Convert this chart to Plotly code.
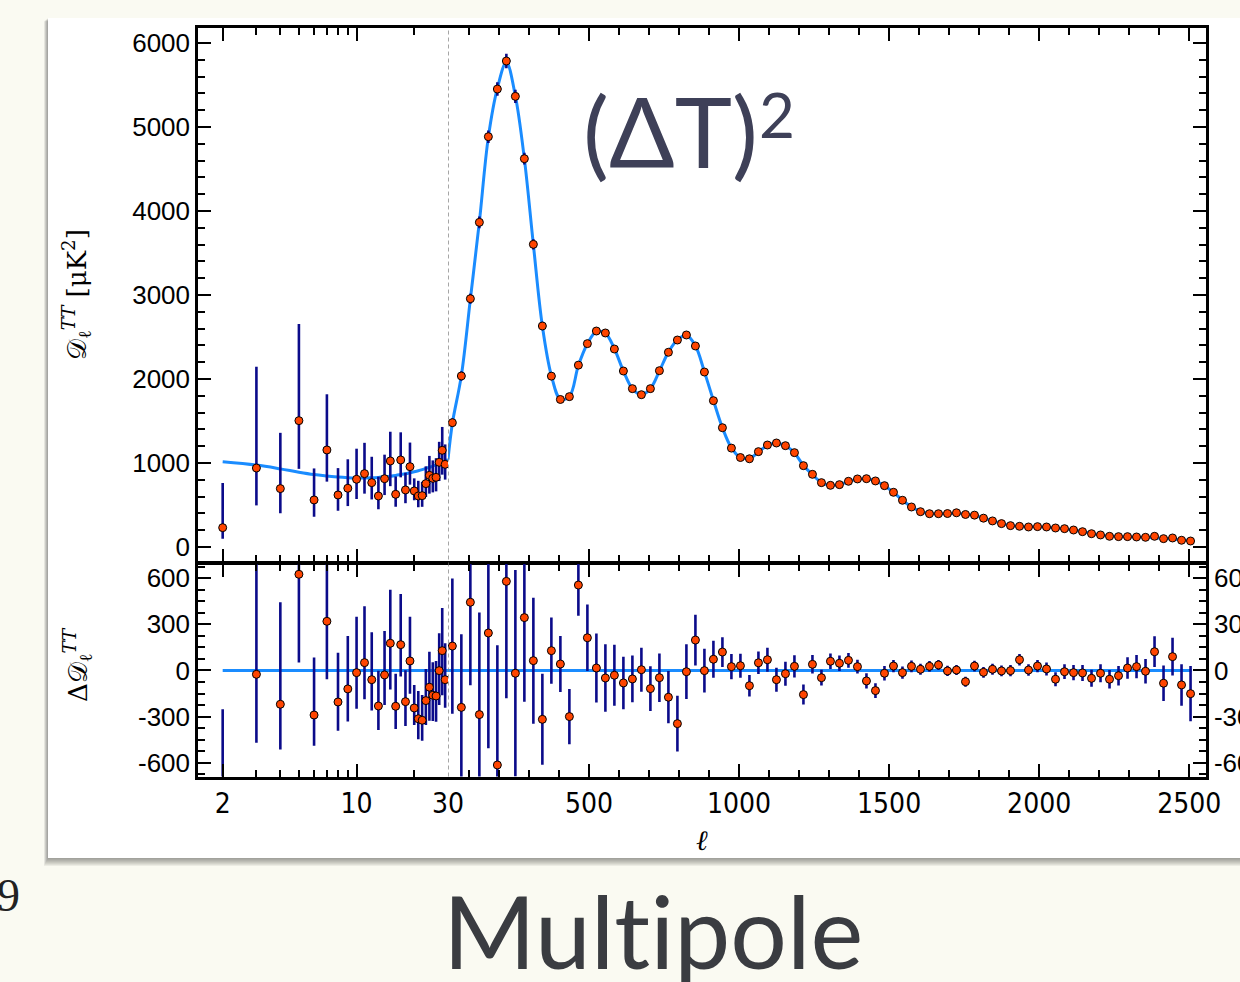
import plotly.graph_objects as go

W, H = 1240, 982

# ---------------- data ----------------
# unbinned low multipoles, ell = 2..29
ell_lo = [2, 3, 4, 5, 6, 7, 8, 9, 10, 11, 12, 13, 14, 15, 16, 17, 18, 19, 20,
          21, 22, 23, 24, 25, 26, 27, 28, 29]
D_lo = [230, 940, 695, 1504, 560, 1155, 619, 699, 806, 873, 766, 607, 813, 1024,
        627, 1036, 679, 956, 667, 607, 611, 754, 853, 817, 829, 1008, 1151, 984]
err_up_lo = [532, 1206, 664, 1151, 375, 663, 320, 345, 364, 367, 308, 230, 286, 348,
             212, 329, 205, 287, 150, 181, 165, 206, 231, 214, 228, 244, 278, 237]
err_dn_lo = [131, 445, 294, 574, 200, 377, 188, 212, 235, 238, 200, 157, 195, 300,
             148, 207, 158, 214, 111, 134, 133, 159, 218, 167, 167, 223, 290, 182]
res_lo = [-785, -25, -220, 626, -290, 320, -205, -120, -14, 51, -60, -231, -29, 177,
          -233, 168, -203, 62, -244, -314, -324, -196, -109, -161, -166, -1, 129, -60]

# theory curve, low multipoles
th_ell_lo = [2, 3, 4, 5, 6, 7, 8, 9, 10, 11, 12, 13, 14, 15, 16, 17, 18, 19, 20,
             21, 22, 23, 24, 25, 26, 27, 28, 29, 30]
th_D_lo = [1015, 975, 930, 890, 862, 845, 832, 825, 822, 821, 823, 828, 835, 843,
           852, 862, 872, 884, 896, 908, 921, 935, 949, 963, 978, 993, 1008, 1024, 1040]

# binned multipoles (delta ell = 30)
ell_hi = [44.5, 74.5, 104.5, 134.5, 164.5, 194.5, 224.5, 254.5, 284.5, 314.5,
          344.5, 374.5, 404.5, 434.5, 464.5, 494.5, 524.5, 554.5, 584.5, 614.5,
          644.5, 674.5, 704.5, 734.5, 764.5, 794.5, 824.5, 854.5, 884.5, 914.5,
          944.5, 974.5, 1004.5, 1034.5, 1064.5, 1094.5, 1124.5, 1154.5, 1184.5, 1214.5,
          1244.5, 1274.5, 1304.5, 1334.5, 1364.5, 1394.5, 1424.5, 1454.5, 1484.5, 1514.5,
          1544.5, 1574.5, 1604.5, 1634.5, 1664.5, 1694.5, 1724.5, 1754.5, 1784.5, 1814.5,
          1844.5, 1874.5, 1904.5, 1934.5, 1964.5, 1994.5, 2024.5, 2054.5, 2084.5, 2114.5,
          2144.5, 2174.5, 2204.5, 2234.5, 2264.5, 2294.5, 2324.5, 2354.5, 2384.5, 2414.5,
          2444.5, 2474.5, 2504.5]
D_hi = [1480, 2036, 2956, 3865, 4885, 5452, 5786, 5365, 4623, 3603,
        2631, 2034, 1756, 1790, 2165, 2421, 2571, 2548, 2357, 2095,
        1885, 1813, 1885, 2099, 2318, 2464, 2524, 2393, 2083, 1742,
        1420, 1177, 1065, 1050, 1135, 1214, 1238, 1206, 1123, 968,
        865, 766, 734, 742, 782, 810, 813, 786, 730, 651,
        556, 476, 420, 396, 396, 398, 407, 387, 379, 343,
        310, 278, 254, 246, 238, 242, 238, 226, 218, 202,
        182, 158, 143, 127, 123, 123, 119, 115, 127, 99,
        107, 80, 71]
err_top_hi = [50, 55, 60, 70, 75, 80, 85, 80, 70, 60,
              50, 45, 40, 40, 40, 40, 40, 40, 38, 36,
              35, 35, 35, 35, 35, 35, 35, 34, 33, 32,
              30, 28, 27, 26, 26, 26, 26, 25, 25, 24,
              23, 22, 22, 21, 21, 20, 20, 20, 19, 18,
              18, 17, 16, 15, 15, 15, 15, 15, 15, 15,
              15, 15, 15, 15, 15, 15, 15, 15, 15, 15,
              15, 15, 15, 15, 16, 16, 17, 18, 20, 22,
              24, 26, 30]
res_hi = [159, -240, 444, -287, 244, -615, 580, -18, 344, 64,
          -318, 129, 42, -300, 556, 213, 16, -49, -31, -81,
          -55, 5, -118, -47, -174, -346, -8, 198, -1, 73,
          120, 25, 31, -99, 50, 70, -60, -21, 27, -157,
          40, -47, 60, 47, 66, 25, -68, -131, -18, 29,
          -14, 27, 8, 27, 36, -3, 3, -73, 29, -12,
          8, -3, -1, 70, 3, 29, 10, -57, -8, -14,
          -16, -51, -18, -57, -34, 16, 25, -5, 122, -83,
          90, -94, -151]
res_err_hi = [440, 475, 540, 665, 750, 780, 760, 672, 547, 410,
              296, 216, 182, 180, 200, 217, 225, 219, 198, 171,
              152, 143, 146, 158, 170, 181, 178, 165, 143, 120,
              97, 82, 78, 70, 73, 78, 78, 78, 72, 65,
              60, 51, 51, 50, 48, 45, 50, 48, 47, 40,
              40, 38, 35, 35, 33, 33, 33, 33, 35, 35,
              35, 35, 37, 37, 38, 40, 42, 45, 48, 50,
              52, 55, 58, 60, 63, 70, 75, 80, 100, 115,
              123, 135, 180]

# theory curve, binned range
th_ell_hi = [30] + ell_hi
th_D_hi = [1040, 1470, 2040, 2950, 3870, 4880, 5460, 5770, 5370, 4620, 3600,
           2630, 2040, 1760, 1790, 2160, 2420, 2565, 2545, 2360, 2095,
           1885, 1815, 1885, 2095, 2320, 2465, 2520, 2395, 2085, 1745,
           1420, 1180, 1065, 1055, 1130, 1210, 1235, 1205, 1120, 970,
           862, 768, 735, 742, 780, 808, 812, 788, 730, 650,
           556, 478, 422, 398, 395, 397, 402, 390, 376, 345,
           310, 280, 256, 245, 240, 240, 236, 227, 216, 200,
           182, 160, 143, 130, 123, 121, 118, 115, 110, 103,
           96, 85, 75]

zero_ell_lo = [2, 30]
zero_ell_hi = [30, 2508]
zero_val = [0, 0]

# axis ticks
xt_lo_vals = [2, 10, 30]
xt_lo_text = ["2", "10", "30"]
xt_lo_minor = [3, 4, 5, 6, 7, 8, 9, 20]
xt_hi_vals = [500, 1000, 1500, 2000, 2500]
xt_hi_text = ["500", "1000", "1500", "2000", "2500"]
yt_top_vals = [0, 1000, 2000, 3000, 4000, 5000, 6000]
yt_bot_vals = [-600, -300, 0, 300, 600]
yt_bot_text = ["-600", "-300", "0", "300", "600"]

# ---------------- styles ----------------
BLUE = "#1a8cff"
NAVY = "#0b0b8a"
RED = "#ff4500"
TICKFONT = dict(family="Liberation Sans, Arial, Helvetica, sans-serif", size=26, color="black")
XTICKFONT = dict(family="DejaVu Sans Condensed, Liberation Sans Narrow, Liberation Sans, sans-serif",
                 size=28, color="black")
SERIF = "DejaVu Serif, Liberation Serif, serif"
SLIDE = "Lato, Noto Sans, sans-serif"

def px_x(p):
    return p / W

def px_y(p):
    return 1 - p / H

L, MID, R = 198, 448, 1206
T_TOP, T_SPLIT_A, T_SPLIT_B, T_BOT = 28, 561.5, 564, 776.5

marker = dict(color=RED, size=8, line=dict(color="black", width=1))

fig = go.Figure()

# top panel, low ell (log axis)
fig.add_trace(go.Scatter(x=th_ell_lo, y=th_D_lo, xaxis="x", yaxis="y", mode="lines",
                         line=dict(color=BLUE, width=3, shape="spline"), hoverinfo="skip"))
fig.add_trace(go.Scatter(x=ell_lo, y=D_lo, xaxis="x", yaxis="y", mode="markers", marker=marker,
                         error_y=dict(type="data", symmetric=False, array=err_up_lo,
                                      arrayminus=err_dn_lo, color=NAVY, thickness=2.6, width=0)))
# top panel, high ell (linear axis)
fig.add_trace(go.Scatter(x=th_ell_hi, y=th_D_hi, xaxis="x2", yaxis="y2", mode="lines",
                         line=dict(color=BLUE, width=3, shape="spline"), hoverinfo="skip"))
fig.add_trace(go.Scatter(x=ell_hi, y=D_hi, xaxis="x2", yaxis="y2", mode="markers", marker=marker,
                         error_y=dict(type="data", array=err_top_hi, color=NAVY,
                                      thickness=2.6, width=0)))
# residual panel
fig.add_trace(go.Scatter(x=zero_ell_lo, y=zero_val, xaxis="x3", yaxis="y3", mode="lines",
                         line=dict(color=BLUE, width=3)))
fig.add_trace(go.Scatter(x=ell_lo, y=res_lo, xaxis="x3", yaxis="y3", mode="markers", marker=marker,
                         error_y=dict(type="data", symmetric=False, array=err_up_lo,
                                      arrayminus=err_dn_lo, color=NAVY, thickness=2.6, width=0)))
fig.add_trace(go.Scatter(x=zero_ell_hi, y=zero_val, xaxis="x4", yaxis="y4", mode="lines",
                         line=dict(color=BLUE, width=3)))
fig.add_trace(go.Scatter(x=ell_hi, y=res_hi, xaxis="x4", yaxis="y4", mode="markers", marker=marker,
                         error_y=dict(type="data", array=res_err_hi, color=NAVY,
                                      thickness=2.6, width=0)))

dom_lo = [px_x(L), px_x(MID)]
dom_hi = [px_x(MID), px_x(R)]
dom_top = [px_y(T_SPLIT_A), px_y(T_TOP)]
dom_bot = [px_y(T_BOT), px_y(T_SPLIT_B)]

xl_range = [0.1722, 1.4773]
xr_range = [30, 2556]
yt_range = [-173, 6179]
yb_range = [-690, 693]

common = dict(showgrid=False, zeroline=False, showline=True, linecolor="black", linewidth=2.5,
              ticks="inside", ticklen=13, tickwidth=2, tickcolor="black", automargin=False)

def xlo(show):
    return dict(common, type="log", range=xl_range, domain=dom_lo, tickmode="array",
                tickvals=xt_lo_vals, ticktext=xt_lo_text, showticklabels=show, mirror="ticks",
                tickfont=XTICKFONT,
                minor=dict(tickmode="array", tickvals=xt_lo_minor, ticks="inside", ticklen=7,
                           tickwidth=2, tickcolor="black", showgrid=False))

def xhi(show):
    return dict(common, range=xr_range, domain=dom_hi, tickmode="array",
                tickvals=xt_hi_vals, ticktext=xt_hi_text, showticklabels=show, mirror="ticks",
                tickfont=XTICKFONT,
                minor=dict(tick0=0, dtick=100, ticks="inside", ticklen=7, tickwidth=2,
                           tickcolor="black", showgrid=False))

fig.update_layout(
    width=W, height=H,
    margin=dict(l=0, r=0, t=0, b=0, autoexpand=False),
    paper_bgcolor="#fafaf2",
    plot_bgcolor="rgba(0,0,0,0)",
    showlegend=False,
    xaxis=dict(xlo(False), anchor="y"),
    xaxis2=dict(xhi(False), anchor="y2"),
    xaxis3=dict(xlo(True), anchor="y3"),
    xaxis4=dict(xhi(True), anchor="y4"),
    yaxis=dict(common, range=yt_range, domain=dom_top, anchor="x", side="left",
               tickmode="array", tickvals=yt_top_vals, tickfont=TICKFONT,
               minor=dict(tick0=0, dtick=200, ticks="inside", ticklen=7, tickwidth=2,
                          tickcolor="black", showgrid=False)),
    yaxis2=dict(common, range=yt_range, domain=dom_top, anchor="x2", side="right",
                tickmode="array", tickvals=yt_top_vals, showticklabels=False,
                minor=dict(tick0=0, dtick=200, ticks="inside", ticklen=7, tickwidth=2,
                           tickcolor="black", showgrid=False)),
    yaxis3=dict(common, range=yb_range, domain=dom_bot, anchor="x3", side="left",
                tickmode="array", tickvals=yt_bot_vals, ticktext=yt_bot_text, tickfont=TICKFONT,
                minor=dict(tick0=0, dtick=75, ticks="inside", ticklen=7, tickwidth=2,
                           tickcolor="black", showgrid=False)),
    yaxis4=dict(common, range=yb_range, domain=dom_bot, anchor="x4", side="right",
                tickmode="array", tickvals=yt_bot_vals, ticktext=yt_bot_text, tickfont=TICKFONT,
                minor=dict(tick0=0, dtick=75, ticks="inside", ticklen=7, tickwidth=2,
                           tickcolor="black", showgrid=False)),
)

shapes = []
# drop shadow of the white slide panel
for i in range(1, 9):
    shapes.append(dict(type="rect", xref="paper", yref="paper", layer="below",
                       x0=px_x(48 - 0.5 * i), x1=px_x(1300), y0=px_y(858 + i), y1=px_y(18 + 0.4 * i),
                       fillcolor="rgba(60,60,60,0.07)", line=dict(width=0)))
shapes.append(dict(type="rect", xref="paper", yref="paper", layer="below",
                   x0=px_x(48), x1=px_x(1300), y0=px_y(858), y1=px_y(18),
                   fillcolor="white", line=dict(width=0)))
# dashed line at ell = 30
shapes.append(dict(type="line", xref="x2", yref="paper", x0=30, x1=30,
                   y0=px_y(T_BOT), y1=px_y(T_TOP), layer="above",
                   line=dict(color="#777777", width=1.3, dash="4px,3px")))
fig.update_layout(shapes=shapes)

ann = []
ann.append(dict(text="𝒟<sub>ℓ</sub><sup><i>TT</i></sup> [μK<sup>2</sup>]", textangle=-90,
                x=px_x(77), y=px_y(295), xref="paper", yref="paper", showarrow=False,
                xanchor="center", yanchor="middle",
                font=dict(family=SERIF, size=26, color="black")))
ann.append(dict(text="Δ𝒟<sub>ℓ</sub><sup><i>TT</i></sup>", textangle=-90,
                x=px_x(77), y=px_y(665), xref="paper", yref="paper", showarrow=False,
                xanchor="center", yanchor="middle",
                font=dict(family=SERIF, size=26, color="black")))
ann.append(dict(text="<i>ℓ</i>", x=px_x(702), y=px_y(840), xref="paper", yref="paper",
                showarrow=False, xanchor="center", yanchor="middle",
                font=dict(family=SERIF, size=28, color="black")))
ann.append(dict(text="(ΔT)", x=px_x(581), y=px_y(130), xref="paper", yref="paper",
                xanchor="left", yanchor="middle", showarrow=False,
                font=dict(family=SLIDE, size=97, color="#3e4058")))
ann.append(dict(text="2", x=px_x(757), y=px_y(114), xref="paper", yref="paper",
                xanchor="left", yanchor="middle", showarrow=False,
                font=dict(family=SLIDE, size=62, color="#3e4058")))
ann.append(dict(text="Mult\u200cipole", x=px_x(441), y=px_y(930), xref="paper", yref="paper",
                xanchor="left", yanchor="middle", showarrow=False,
                font=dict(family=SLIDE, size=100, color="#3a3c41")))
ann.append(dict(text="9", x=px_x(22), y=px_y(895), xref="paper", yref="paper",
                xanchor="right", yanchor="middle", showarrow=False,
                font=dict(family="Liberation Serif, DejaVu Serif, serif", size=46, color="#222222")))
fig.update_layout(annotations=ann)

fig.write_html("out.html")
